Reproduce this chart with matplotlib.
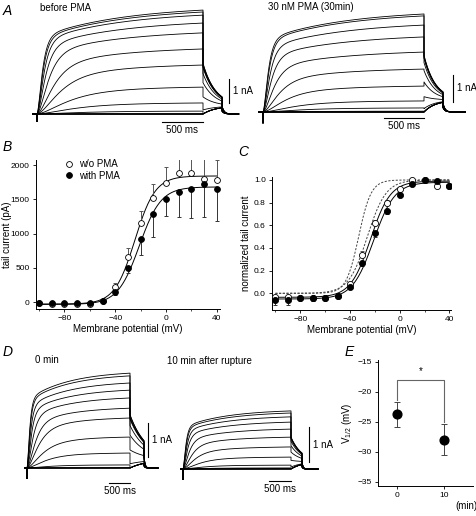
import numpy as np
import matplotlib
matplotlib.use('Agg')
import matplotlib.pyplot as plt

plt.rcParams['font.family'] = ['Liberation Sans', 'DejaVu Sans']
plt.rcParams['mathtext.default'] = 'regular'
plt.rcParams['font.size'] = 7

W, H = 476, 516

# step potentials (mV)
volts = np.arange(-100, 41, 10)

# B: tail current amplitude (pA), mean and one-sided error
tail_wo = [-20, -25, -25, -25, -30, 10, 223, 661, 1158, 1514, 1742, 1879, 1888, 1796, 1781]
tail_with = [-20, -20, -15, -15, -15, 10, 150, 501, 920, 1285, 1499, 1611, 1645, 1723, 1645]
err_wo = [0, 0, 0, 0, 0, 0, 50, 123, 175, 204, 228, 233, 242, 287, 289]
err_with = [0, 0, 0, 0, 0, 0, 48, 82, 234, 332, 250, 375, 419, 478, 458]

# C: normalized tail current
norm_wo = [-0.03, -0.03, -0.04, -0.04, -0.04, -0.02, 0.08, 0.34, 0.62, 0.80, 0.92, 1.0, 1.0, 0.95, 0.95]
norm_with = [-0.06, -0.06, -0.04, -0.045, -0.04, -0.02, 0.06, 0.27, 0.53, 0.73, 0.87, 0.96, 1.0, 0.99, 0.95]
nerr_wo = [0.01] * 6 + [0.015, 0.03, 0.03, 0.02, 0.02, 0.01, 0.01, 0.01, 0.01]
nerr_with = [0.045, 0.045, 0.02, 0.02, 0.02, 0.02, 0.02, 0.025, 0.03, 0.03, 0.02, 0.01, 0.01, 0.01, 0.01]

# Boltzmann fits: (bottom, top, V1/2, slope)
fit_b_wo = (-30, 1840, -24.5, 8.0)
fit_b_with = (-35, 1680, -21.0, 8.5)
fit_c_wo = (-0.035, 0.99, -23.5, 8.0)
fit_c_with = (-0.05, 0.98, -21.0, 8.5)
fit_c_dash = [(0.0, 1.0, -33.0, 5.0), (0.0, 1.0, -26.0, 7.5)]

# E: V1/2 at 0 and 10 min after rupture
e_time = [0, 10]
e_vhalf = [-23.8, -28.0]
e_err = [2.1, 2.6]

# current traces: current at end of each step (nA) and activation time constant (ms)
amp_before = [0, 0, 0, 0, 0, 0.12, 0.46, 1.12, 2.04, 2.71, 3.38, 3.79, 4.12, 4.25, 4.33]
amp_pma = [0, 0, 0, 0, 0, 0.03, 0.15, 0.41, 0.96, 1.59, 2.22, 2.78, 3.22, 3.56, 3.63]
amp_0min = [0, 0, 0, 0, 0, 0.09, 0.44, 0.91, 1.47, 1.76, 2.06, 2.29, 2.50, 2.71, 2.79]
amp_10min = [0, 0, 0, 0, 0, 0.03, 0.11, 0.34, 0.63, 0.91, 1.14, 1.34, 1.49, 1.60, 1.66]
tau_act = [400, 400, 400, 400, 400, 400, 350, 300, 220, 160, 110, 80, 65, 55, 50]


def boltz(v, bottom, top, vh, k):
    return bottom + (top - bottom) / (1 + np.exp((vh - v) / k))


fig = plt.figure(figsize=(W / 100, H / 100), dpi=100)


def px_text(x, y, s, **kw):
    fig.text(x / W, 1 - y / H, s, **kw)


def sweep(amp, tau, act, p):
    t1 = np.linspace(0, p['pulse'], 300)
    shape = 0.7 * (1 - np.exp(-t1 / tau)) ** 2 + 0.3 * (1 - np.exp(-t1 / 1000))
    i1 = amp * shape / shape[-1]
    t2 = np.linspace(0, p['tail'], 80)
    i2 = p['tail_inf'] + (p['tail_peak'] * max(act, 0) - p['tail_inf']) * np.exp(-t2 / p['tail_tau'])
    t3 = np.linspace(0, p['post'], 60)
    i3 = i2[-1] * 0.45 * np.exp(-t3 / 25)
    t = np.concatenate([[-50, 0, 0], t1, p['pulse'] + t2, p['pulse'] + p['tail'] + t3])
    i = np.concatenate([[0, 0, -p['art']], i1, i2, i3])
    return t, i


def trace_panel(p, amps, acts):
    # axes covering the whole figure, limits chosen so data lands on the right pixels
    ax = fig.add_axes([0, 0, 1, 1])
    ax.set_xlim(-p['x0'] / p['px_ms'], (W - p['x0']) / p['px_ms'])
    ax.set_ylim((p['base'] - H) / p['px_na'], p['base'] / p['px_na'])
    ax.axis('off')
    ax.patch.set_alpha(0)
    for amp, tau, act in zip(amps, tau_act, acts):
        t, i = sweep(amp, tau, act, p)
        ax.plot(t, i, color='black', lw=0.6)
    # scale bars
    yb = -(p['hbar_y'] - p['base']) / p['px_na']
    ax.plot([p['pulse'] - 500, p['pulse']], [yb, yb], color='black', lw=0.8)
    ax.text(p['pulse'] - 250, yb - 8 / p['px_na'], '500 ms', ha='center', va='center', fontsize=7)
    xv = (p['vbar_x'] - p['x0']) / p['px_ms']
    y0 = (p['base'] - p['vbar_y']) / p['px_na']
    ax.plot([xv, xv], [y0, y0 + 1], color='black', lw=0.8)
    ax.text(xv + 4 / p['px_ms'], y0 + 0.5, '1 nA', ha='left', va='center', fontsize=7)


panel_a1 = dict(x0=37, base=114, px_ms=0.083, px_na=24, pulse=2000, tail=230, post=200,
                tail_peak=2.1, tail_inf=0.33, tail_tau=150, art=0.3,
                hbar_y=122, vbar_x=229, vbar_y=103)
panel_a2 = dict(x0=263, base=112, px_ms=0.0805, px_na=27, pulse=2000, tail=236, post=280,
                tail_peak=2.1, tail_inf=0.44, tail_tau=140, art=0.4,
                hbar_y=118, vbar_x=453, vbar_y=102)
panel_d1 = dict(x0=27, base=468, px_ms=0.0412, px_na=34, pulse=2500, tail=340, post=340,
                tail_peak=1.56, tail_inf=0.24, tail_tau=400, art=0.3,
                hbar_y=483, vbar_x=148, vbar_y=457)
panel_d2 = dict(x0=183, base=469, px_ms=0.0432, px_na=35, pulse=2500, tail=255, post=370,
                tail_peak=0.91, tail_inf=0.2, tail_tau=250, art=0.3,
                hbar_y=481, vbar_x=309, vbar_y=462)

trace_panel(panel_a1, amp_before, norm_wo)
trace_panel(panel_a2, amp_pma, norm_with)
trace_panel(panel_d1, amp_0min, norm_wo)
trace_panel(panel_d2, amp_10min, norm_with)


def style_axes(ax):
    for s in ['top', 'right']:
        ax.spines[s].set_visible(False)
    for s in ['left', 'bottom']:
        ax.spines[s].set_linewidth(0.7)
    ax.tick_params(which='major', direction='out', length=2.5, width=0.6, labelsize=6, pad=2)
    ax.tick_params(which='minor', direction='out', length=1.5, width=0.5)
    ax.patch.set_alpha(0)


def px_axes(left, top, right, bottom):
    return fig.add_axes([left / W, 1 - bottom / H, (right - left) / W, (bottom - top) / H])


vfine = np.linspace(-100, 40, 300)

# ---- B
axb = px_axes(36, 160, 220, 309)
style_axes(axb)
axb.plot(vfine, boltz(vfine, *fit_b_wo), color='black', lw=0.7)
axb.plot(vfine, boltz(vfine, *fit_b_with), color='black', lw=0.7)
axb.errorbar(volts, tail_wo, yerr=[np.zeros(15), err_wo], fmt='none', ecolor='#555555',
             elinewidth=0.7, capsize=1.5, capthick=0.7)
axb.errorbar(volts, tail_with, yerr=[err_with, np.zeros(15)], fmt='none', ecolor='#333333',
             elinewidth=0.7, capsize=1.5, capthick=0.7)
axb.plot(volts, tail_wo, 'o', ms=4.2, mfc='white', mec='black', mew=0.6, label='w/o PMA', zorder=5)
axb.plot(volts, tail_with, 'o', ms=4.2, mfc='black', mec='black', mew=0.6, label='with PMA', zorder=5)
axb.set_xlim(-102.4, 42.5)
axb.set_ylim(-102, 2073)
axb.set_xticks([-80, -40, 0, 40])
axb.set_xticks([-100, -60, -20, 20], minor=True)
axb.set_yticks([0, 500, 1000, 1500, 2000])
axb.set_xlabel('Membrane potential (mV)', fontsize=7, labelpad=1)
axb.set_ylabel('tail current (pA)', fontsize=7)
axb.yaxis.set_label_coords(-0.13, 0.5)
axb.legend(loc='upper left', bbox_to_anchor=(0.13, 1.03), frameon=False, fontsize=7,
           handlelength=1, handletextpad=0.6, labelspacing=0.15, borderaxespad=0)

# ---- C
axc = px_axes(272, 177, 451, 310)
style_axes(axc)
for f in fit_c_dash:
    axc.plot(vfine, boltz(vfine, *f), color='#444444', lw=0.7, dashes=(2.2, 1.6))
axc.plot(vfine, boltz(vfine, *fit_c_wo), color='black', lw=0.7)
axc.plot(vfine, boltz(vfine, *fit_c_with), color='black', lw=0.7)
axc.errorbar(volts, norm_wo, yerr=[np.zeros(15), nerr_wo], fmt='none', ecolor='#555555',
             elinewidth=0.7, capsize=1.5, capthick=0.7)
axc.errorbar(volts, norm_with, yerr=[nerr_with, np.zeros(15)], fmt='none', ecolor='#333333',
             elinewidth=0.7, capsize=1.5, capthick=0.7)
axc.plot(volts, norm_wo, 'o', ms=4.4, mfc='white', mec='black', mew=0.6, zorder=5)
axc.plot(volts, norm_with, 'o', ms=4.4, mfc='black', mec='black', mew=0.6, zorder=5)
axc.set_xlim(-102.7, 41.3)
axc.set_ylim(-0.147, 1.026)
axc.set_xticks([-80, -40, 0, 40])
axc.set_xticks([-100, -60, -20, 20], minor=True)
axc.set_yticks([0, 0.2, 0.4, 0.6, 0.8, 1.0])
axc.set_yticklabels(['0.0', '0.2', '0.4', '0.6', '0.8', '1.0'])
axc.set_xlabel('Membrane potential (mV)', fontsize=7, labelpad=1)
axc.set_ylabel('normalized tail current', fontsize=7, labelpad=2)

# ---- E
axe = px_axes(377.7, 360, 472.7, 485.7)
style_axes(axe)
axe.errorbar(e_time, e_vhalf, yerr=e_err, fmt='o', ms=6.3, color='black', ecolor='#444444',
             elinewidth=0.7, capsize=2, capthick=0.7)
axe.set_xlim(-4.13, 16.2)
axe.set_ylim(-35.67, -14.72)
axe.set_xticks(e_time)
axe.set_yticks([-15, -20, -25, -30, -35])
axe.set_ylabel(r'V$_{1/2}$ (mV)', fontsize=7, labelpad=2)
top = -18.05
axe.plot([e_time[0], e_time[0], e_time[1], e_time[1]],
         [e_vhalf[0] + e_err[0] + 0.3, top, top, e_vhalf[1] + e_err[1] + 0.3],
         color='#666666', lw=0.8)
axe.text(np.mean(e_time), top + 0.7, '*', ha='center', va='bottom', fontsize=7)

# ---- labels
px_text(3, 11, 'A', fontsize=10, style='italic', va='center')
px_text(40, 8, 'before PMA', fontsize=7, va='center')
px_text(268, 7, '30 nM PMA (30min)', fontsize=7, va='center')
px_text(3, 147, 'B', fontsize=10, style='italic', va='center')
px_text(238, 152, 'C', fontsize=10, style='italic', va='center')
px_text(3, 352, 'D', fontsize=10, style='italic', va='center')
px_text(35, 360, '0 min', fontsize=7, va='center')
px_text(167, 361, '10 min after rupture', fontsize=7, va='center')
px_text(345, 352, 'E', fontsize=10, style='italic', va='center')
px_text(455, 506, '(min)', fontsize=7, va='center')

fig.savefig('out.png', dpi=100)
